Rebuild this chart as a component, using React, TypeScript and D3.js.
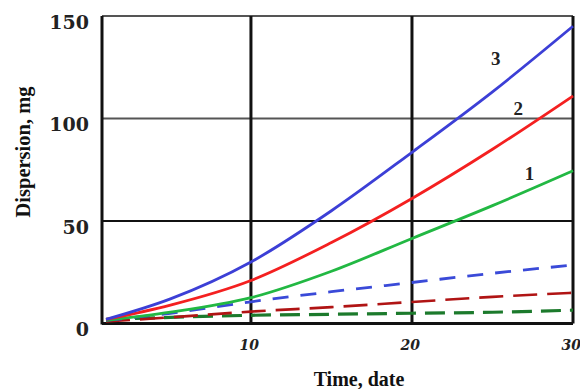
import React from "react";
import { scaleLinear, line, curveMonotoneX } from "d3";

// days at which the curves were read
const days = [1, 5, 10, 15, 20, 25, 30];

// solid curves (1, 2, 3) and the matching dashed curves
const curve1 = [1.5, 5.5, 12.6, 25.5, 41.5, 57.5, 74.5];
const curve2 = [2, 9, 21, 39.5, 61, 85, 111];
const curve3 = [2, 12, 30, 55, 83.5, 113, 145];
const dashed1 = [2, 3, 4, 4.5, 5, 5.5, 6.5];
const dashed2 = [1, 3, 5.8, 8, 10.5, 13, 15];
const dashed3 = [1.5, 5, 10.6, 15.5, 20, 24.5, 28.5];

const yTicks = [0, 50, 100, 150];
const xTicks = [10, 20, 30];
const curveNames = ["1", "2", "3"];

const W = 580;
const H = 389;
const left = 102;
const right = 573;
const top = 16;
const bottom = 323.5;

const App = () => {
  const x = scaleLinear().domain([0.75, 30]).range([left, right]);
  const y = scaleLinear().domain([0, 150]).range([bottom, top]);

  const path = (vals: number[]) =>
    line<number>()
      .x((_, i) => x(days[i]))
      .y((d) => y(d))
      .curve(curveMonotoneX)(vals) || "";

  const series = [
    { vals: dashed1, color: "#1c7a2c", dash: "20 9", width: 3.2 },
    { vals: dashed2, color: "#b01414", dash: "24 10", width: 2.6 },
    { vals: dashed3, color: "#3a4ad8", dash: "16 12", width: 2.8 },
    { vals: curve1, color: "#22b843", dash: null, width: 2.8 },
    { vals: curve2, color: "#f42020", dash: null, width: 2.8 },
    { vals: curve3, color: "#3c3fd6", dash: null, width: 2.8 },
  ];

  // label spots, a little above each solid curve near its end
  const labelAt = [
    { d: 27.3, v: 73.4 },
    { d: 26.6, v: 105 },
    { d: 25.2, v: 129.5 },
  ];

  const serif = "'Liberation Serif', 'Times New Roman', serif";

  return (
    <svg
      width={W}
      height={H}
      style={{ position: "absolute", left: 0, top: 0, background: "#fff" }}
    >
      {/* horizontal grid */}
      {yTicks.slice(1).map((t) => (
        <line
          key={"h" + t}
          x1={left}
          x2={right}
          y1={y(t)}
          y2={y(t)}
          stroke={t === 50 ? "#111" : "#555"}
          strokeWidth={2}
        />
      ))}
      {/* vertical grid */}
      {xTicks.map((t) => (
        <line
          key={"v" + t}
          x1={x(t)}
          x2={x(t)}
          y1={top}
          y2={bottom}
          stroke="#111"
          strokeWidth={3}
        />
      ))}
      {/* axes */}
      <line x1={left} x2={left} y1={top} y2={bottom + 1} stroke="#111" strokeWidth={3} />
      <line x1={left} x2={right} y1={bottom} y2={bottom} stroke="#111" strokeWidth={3} />

      {series.map((s, i) => (
        <path
          key={i}
          d={path(s.vals)}
          fill="none"
          stroke={s.color}
          strokeWidth={s.width}
          strokeDasharray={s.dash || undefined}
        />
      ))}

      {curveNames.map((n, i) => (
        <text
          key={n}
          x={x(labelAt[i].d)}
          y={y(labelAt[i].v)}
          dy="0.35em"
          textAnchor="middle"
          fontFamily={serif}
          fontWeight="bold"
          fontSize={19}
          fill="#222"
        >
          {n}
        </text>
      ))}

      {/* y tick labels */}
      {yTicks.map((t) => (
        <text
          key={"yl" + t}
          x={89}
          y={y(t) + 6}
          dy="0.35em"
          textAnchor="end"
          fontFamily="'DejaVu Serif', serif"
          fontWeight="bold"
          fontSize={19}
          fill="#222"
        >
          {t}
        </text>
      ))}
      {/* x tick labels */}
      {xTicks.map((t) => (
        <text
          key={"xl" + t}
          x={x(t) + 8}
          y={350}
          textAnchor="end"
          fontFamily="'DejaVu Serif', serif"
          fontWeight="bold"
          fontStyle="italic"
          fontSize={14}
          fill="#222"
        >
          {t}
        </text>
      ))}

      <text
        x={359}
        y={386}
        textAnchor="middle"
        fontFamily={serif}
        fontWeight="bold"
        fontSize={20}
        fill="#111"
      >
        Time, date
      </text>
      <text
        transform={`translate(30, ${(86 + 218) / 2}) rotate(-90)`}
        textAnchor="middle"
        fontFamily={serif}
        fontWeight="bold"
        fontSize={20.5}
        fill="#111"
      >
        Dispersion, mg
      </text>
    </svg>
  );
};

export default App;
